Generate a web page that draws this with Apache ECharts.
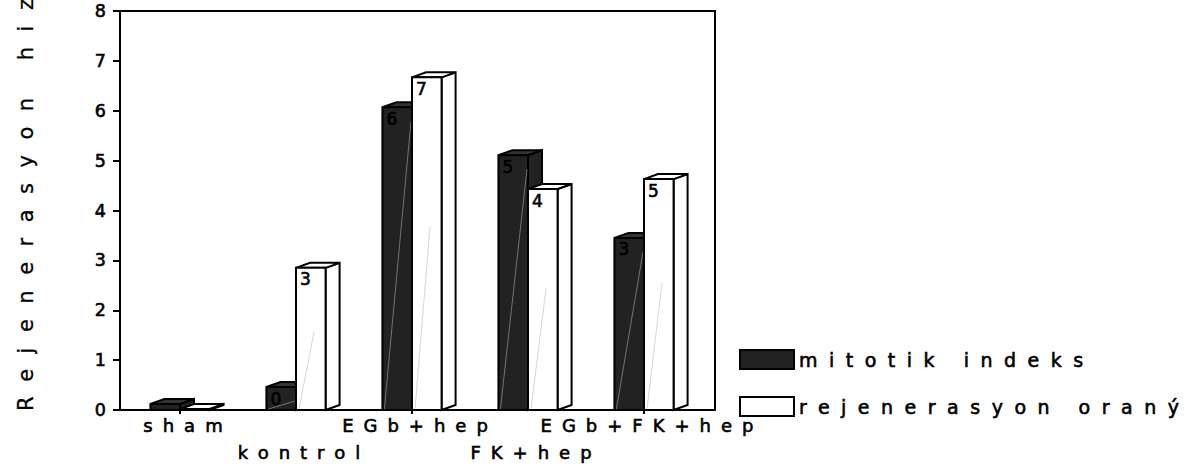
<!DOCTYPE html>
<html>
<head>
<meta charset="utf-8">
<script src="https://cdn.jsdelivr.net/npm/echarts@6/dist/echarts.min.js"></script>
<style>
  html, body { margin: 0; padding: 0; background: #fff; }
  #chart { width: 1195px; height: 472px; }
  #chart text[style*="18px"] { letter-spacing: 10px; }
  #chart text[style*="19px"] { letter-spacing: 11.5px; }
  #chart text[style*="21px"] { letter-spacing: 15.5px; }
</style>
</head>
<body>
<div id="chart"></div>
<script>
// ---- data ----
const categories = ['sham', 'kontrol', 'EGb+hep', 'FK+hep', 'EGb+FK+hep'];
const seriesNames = ['mitotik indeks', 'rejenerasyon oraný'];
const mitotikIndeks = [0.12, 0.46, 6.07, 5.11, 3.45];
const rejenerasyonOrani = [0.02, 2.85, 6.67, 4.43, 4.63];
const yTicks = [0, 1, 2, 3, 4, 5, 6, 7, 8];
const yTitle = 'Rejenerasyon hiz';

const FONT = 'DejaVu Sans';
const TB = { textBorderColor: '#000', textBorderWidth: 0.6 };
const chart = echarts.init(document.getElementById('chart'), null, { renderer: 'svg' });

function makeRender(side, fill, diagColor) {
  return function (params, api) {
    const i = api.value(0), v = api.value(1);
    const base = api.coord([i, 0]);
    const top = api.coord([i, v]);
    const band = api.size([1, 0])[0];
    const w = band * 0.255;
    const cx = base[0];
    const x0 = side < 0 ? cx - w : cx;
    const x1 = x0 + w;
    const yb = base[1], yt = top[1];
    const dx = 14, dy = 5;
    const edge = { stroke: '#000', lineWidth: 2, lineJoin: 'miter' };
    const h = yb - yt;
    const children = [
      { type: 'polygon', shape: { points: [[x1, yb], [x1 + dx, yb - dy], [x1 + dx, yt - dy], [x1, yt]] },
        style: Object.assign({ fill: fill }, edge) },
      { type: 'polygon', shape: { points: [[x0, yt], [x0 + dx, yt - dy], [x1 + dx, yt - dy], [x1, yt]] },
        style: Object.assign({ fill: side < 0 ? '#333' : '#fff' }, edge) },
      { type: 'rect', shape: { x: x0, y: yt, width: w, height: h },
        style: Object.assign({ fill: fill }, edge) }
    ];
    if (h > 20) {
      if (side < 0) {
        children.push({ type: 'line', shape: { x1: x0 + 2, y1: yb - 1, x2: x1 - 1, y2: yt + 14 },
          style: { stroke: diagColor, lineWidth: 0.8 } });
      } else {
        children.push({ type: 'line', shape: { x1: x0 + 3, y1: yb - 1, x2: x0 + 18, y2: yb - 0.55 * h },
          style: { stroke: diagColor, lineWidth: 0.8 } });
      }
    }
    if (v >= 0.3) {
      children.push({ type: 'text', x: x0 + 4, y: yt + 3,
        style: { text: String(Math.round(v)), fill: '#000', font: '17px "' + FONT + '"',
          stroke: '#000', lineWidth: 0.6,
          textAlign: 'left', textVerticalAlign: 'top' } });
    }
    return { type: 'group', children: children };
  };
}

const labelStyle = Object.assign({ fontFamily: FONT, fontSize: 18, color: '#000' }, TB);

const option = {
  animation: false,
  backgroundColor: '#fff',
  grid: [
    { left: 120, top: 11, width: 595, height: 399, show: true, borderColor: '#000', borderWidth: 2, backgroundColor: 'transparent' },
    { left: 122, top: 11, width: 580, height: 399 }
  ],
  legend: {
    orient: 'vertical', left: 739, top: 349, padding: 0,
    itemWidth: 54, itemHeight: 19, itemGap: 26,
    icon: 'rect',
    textStyle: Object.assign({ fontFamily: FONT, fontSize: 19, color: '#000' }, TB),
    data: [
      { name: seriesNames[0], itemStyle: { color: '#222', borderColor: '#000', borderWidth: 2 } },
      { name: seriesNames[1], itemStyle: { color: '#fff', borderColor: '#000', borderWidth: 2 } }
    ]
  },
  xAxis: [
    { gridIndex: 0, type: 'value', show: false, min: 0, max: 1 },
    { gridIndex: 1, type: 'category', data: categories,
      axisLine: { show: false },
      axisTick: { show: true, alignWithLabel: true, length: 4, lineStyle: { color: '#000', width: 2 } },
      axisLabel: Object.assign({ interval: (idx) => idx % 2 === 0, margin: 6, padding: [0, 0, 0, 16] }, labelStyle) },
    { gridIndex: 1, type: 'category', data: categories, position: 'bottom',
      axisLine: { show: false }, axisTick: { show: false },
      axisLabel: Object.assign({ interval: (idx) => idx % 2 === 1, margin: 33, padding: [0, 0, 0, 16] }, labelStyle) }
  ],
  yAxis: [
    { gridIndex: 0, type: 'value', min: 0, max: 8, interval: 1,
      axisLine: { show: true, lineStyle: { color: '#000', width: 2 } },
      axisTick: { show: true, length: 7, lineStyle: { color: '#000', width: 2 } },
      splitLine: { show: false },
      axisLabel: Object.assign({ margin: 14, fontFamily: FONT, fontSize: 17.5, color: '#000',
        formatter: (v) => (yTicks.indexOf(v) >= 0 ? String(v) : '') }, TB) },
    { gridIndex: 1, type: 'value', min: 0, max: 8, show: false }
  ],
  graphic: [
    { type: 'text', x: 26, y: 411, rotation: Math.PI / 2,
      style: { text: yTitle, font: '21px "' + FONT + '"', fill: '#000', stroke: '#000', lineWidth: 0.3,
        textAlign: 'left', textVerticalAlign: 'middle' } }
  ],
  series: [
    { name: seriesNames[0], type: 'custom', xAxisIndex: 1, yAxisIndex: 1,
      itemStyle: { color: '#222', borderColor: '#000', borderWidth: 2 },
      renderItem: makeRender(-1, '#222', '#888'),
      data: mitotikIndeks.map((v, i) => [i, v]) },
    { name: seriesNames[1], type: 'custom', xAxisIndex: 1, yAxisIndex: 1,
      itemStyle: { color: '#fff', borderColor: '#000', borderWidth: 2 },
      renderItem: makeRender(1, '#fff', '#ccc'),
      data: rejenerasyonOrani.map((v, i) => [i, v]) }
  ]
};
chart.setOption(option);
</script>
</body>
</html>
